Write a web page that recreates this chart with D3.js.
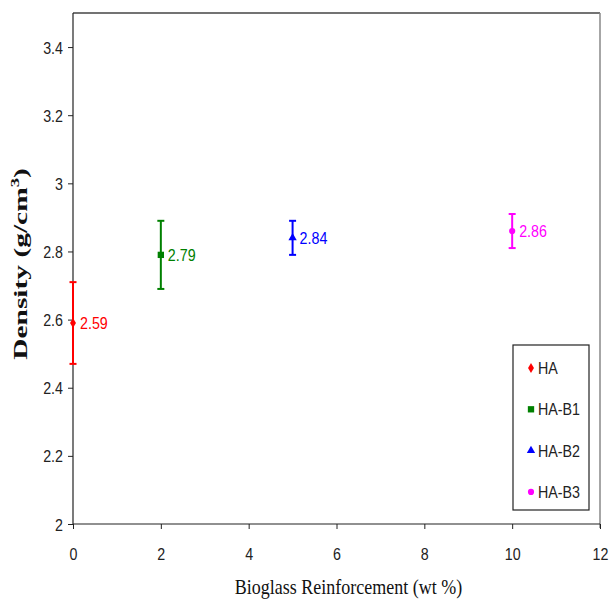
<!DOCTYPE html>
<html>
<head>
<meta charset="utf-8">
<script src="https://cdn.jsdelivr.net/npm/d3@7"></script>
<style>
  body { margin:0; background:#fff; }
  svg text { font-family: "Liberation Sans", Arial, sans-serif; }
  .serif { font-family: "Liberation Serif", "Times New Roman", serif !important; }
</style>
</head>
<body>
<div id="grafico"></div>
<script>
// dados
const amostras = ['HA', 'HA-B1', 'HA-B2', 'HA-B3'];
const bioglass = [0, 2, 5, 10];           // wt %
const densidade = [2.59, 2.79, 2.84, 2.86];
const erro = [0.12, 0.10, 0.05, 0.05];
const cores = ['#ff0000', '#008000', '#0000ff', '#ff00ff'];
const simbolos = [d3.symbolDiamond, d3.symbolSquare, d3.symbolTriangle, d3.symbolCircle];
const ticksX = [0, 2, 4, 6, 8, 10, 12];
const ticksY = [2, 2.2, 2.4, 2.6, 2.8, 3, 3.2, 3.4];

const largura = 610, altura = 601;
const esq = 73, dir = 600, topo = 13, base = 524;
const aperto = 0.84; // fonte estreita

// texto condensado: escala no x, mantendo a posicao
function estreito(sel, px, py) {
  sel.attr('transform', `translate(${px},${py}) scale(${aperto},1)`).attr('x', 0).attr('y', 0);
}

const svg = d3.select('#grafico').append('svg')
  .attr('width', largura).attr('height', altura);

const x = d3.scaleLinear().domain([0, 12]).range([esq, dir]);
const y = d3.scaleLinear().domain([2, 3.5]).range([base, topo]);

// moldura (topo e direita)
svg.append('line').attr('x1', esq).attr('x2', dir).attr('y1', topo).attr('y2', topo)
  .attr('stroke', '#444').attr('stroke-width', 1.5);
svg.append('line').attr('x1', dir).attr('x2', dir).attr('y1', topo).attr('y2', base + 4)
  .attr('stroke', '#888').attr('stroke-width', 1.5);

const eixoX = svg.append('g').attr('transform', `translate(0,${base})`)
  .call(d3.axisBottom(x).tickValues(ticksX).tickSize(5).tickFormat(d3.format('d')));
const eixoY = svg.append('g').attr('transform', `translate(${esq},0)`)
  .call(d3.axisLeft(y).tickValues(ticksY).tickSize(5).tickFormat(d => d3.format('')(d)));

for (const g of [eixoX, eixoY]) {
  g.select('.domain').attr('stroke', '#222').attr('stroke-width', 1.2);
  g.selectAll('.tick line').attr('stroke', '#222');
  g.selectAll('.tick text').attr('font-size', 17).attr('fill', '#222').attr('dy', null);
}
eixoX.select('.domain').attr('d', `M${esq},0H${dir}`);
eixoY.select('.domain').attr('d', `M0,${base}V${topo}`);
eixoX.selectAll('.tick text').each(function () { estreito(d3.select(this), 0, 36); });
eixoY.selectAll('.tick text').each(function () { estreito(d3.select(this), -10, 6); });

// barras de erro, pontos e rotulos
amostras.forEach((a, i) => {
  const cx = x(bioglass[i]);
  const g = svg.append('g');
  const y1 = y(densidade[i] + erro[i]), y2 = y(densidade[i] - erro[i]);
  g.append('line').attr('x1', cx).attr('x2', cx).attr('y1', y1).attr('y2', y2)
    .attr('stroke', cores[i]).attr('stroke-width', 2);
  for (const yy of [y1, y2]) {
    g.append('line').attr('x1', cx - 3.5).attr('x2', cx + 3.5).attr('y1', yy).attr('y2', yy)
      .attr('stroke', cores[i]).attr('stroke-width', 2);
  }
  g.append('path').attr('d', d3.symbol(simbolos[i], i == 1 ? 40 : 30)())
    .attr('transform', `translate(${cx},${y(densidade[i])})`).attr('fill', cores[i]);
  g.append('text').attr('font-size', 17).attr('fill', cores[i]).text(densidade[i].toFixed(2))
    .call(estreito, cx + 7, y(densidade[i]) + 6);
});

// legenda
const leg = svg.append('g');
leg.append('rect').attr('x', 513).attr('y', 345).attr('width', 76).attr('height', 165)
  .attr('fill', '#fff').attr('stroke', '#222').attr('stroke-width', 1.2);
amostras.forEach((a, i) => {
  const ly = 368 + i * 41.3;
  leg.append('path').attr('d', d3.symbol(simbolos[i], i == 1 ? 40 : 30)())
    .attr('transform', `translate(531,${ly})`).attr('fill', cores[i]);
  leg.append('text').attr('font-size', 17).attr('fill', '#222').text(a)
    .call(estreito, 538, ly + 6);
});

// titulos dos eixos
svg.append('text').attr('class', 'serif')
  .attr('transform', `translate(${(esq + dir) / 2 + 12},594) scale(1,1.12)`).attr('text-anchor', 'middle')
  .attr('font-size', 18).attr('fill', '#111').text('Bioglass Reinforcement (wt %)');

const ty = svg.append('text').attr('class', 'serif')
  .attr('transform', 'translate(27,264) rotate(-90) scale(1.55,1)').attr('text-anchor', 'middle')
  .attr('font-size', 19).attr('font-weight', 'bold').attr('fill', '#111');
ty.append('tspan').text('Density (g/cm');
ty.append('tspan').attr('dy', -8).attr('font-size', 12).text('3');
ty.append('tspan').attr('dy', 8).text(')');
</script>
</body>
</html>
